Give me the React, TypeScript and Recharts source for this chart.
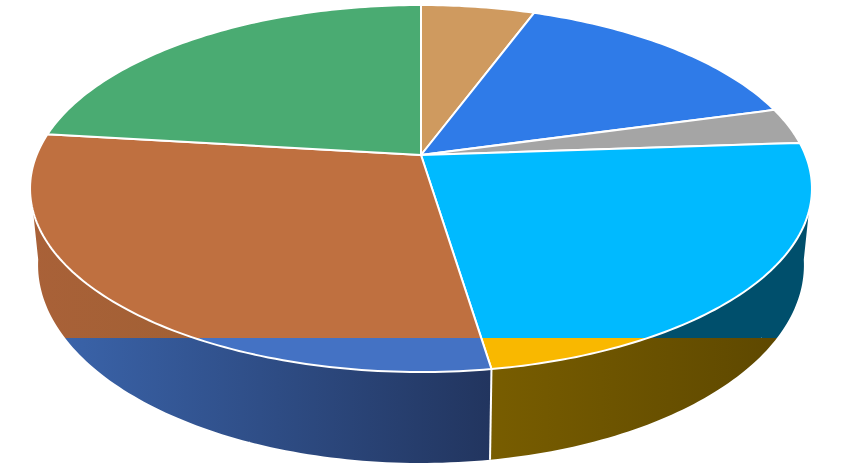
import { Pie, PieChart } from "recharts"

const sliceNames = ["Tan", "Blue", "Gray", "Sky", "Brown", "Green"]
const sliceValues = [5.6, 15.1, 3.2, 23.7, 29.3, 23.1]
const upperColors = ["#CF9A5F", "#2F7BE8", "#A5A5A5", "#00BAFF", "#BF7040", "#4AAB72"]
const lowerColors = ["#CF9A5F", "#2F7BE8", "#A5A5A5", "#F9B800", "#4472C4", "#4AAB72"]
const upperWalls = ["#000", "#000", "#000", "#004F6C", "url(#brownWall)", "#000"]
const lowerWalls = ["#000", "#000", "#000", "url(#goldWall)", "url(#blueWall)", "#000"]

const rows = (colors: string[]) =>
  sliceNames.map((name, i) => ({ name, value: sliceValues[i], fill: colors[i] }))

// perspective of the disc, solved from the outline of the picture
const CX = 421
const TILT = 0.1826
const TOP = { cy: 155, a: 384.4, b: 177.4 }
const BOTTOM = { cy: 228.8, a: 376.5, b: 191.4 }
const SPLIT_Y = 338
const WALL_FROM = 99
const WALL_TO = 261

function project(clock: number, disc: { cy: number; a: number; b: number }) {
  const rad = (clock * Math.PI) / 180
  const u = Math.sin(rad)
  const v = -Math.cos(rad)
  const w = 1 - TILT * v
  return `${(CX + (disc.a * u) / w).toFixed(2)} ${(disc.cy + (disc.b * v) / w).toFixed(2)}`
}

function arc(from: number, to: number, disc: { cy: number; a: number; b: number }) {
  const pts = []
  const n = Math.max(1, Math.ceil(Math.abs(to - from)))
  for (let i = 0; i <= n; i++) pts.push(project(from + ((to - from) * i) / n, disc))
  return pts
}

function clipped(layer: string, node: any) {
  return <g clipPath={`url(#${layer})`}>{node}</g>
}

const topShape = (layer: string) => (props: any) => {
  const from = 90 - props.startAngle
  const to = 90 - props.endAngle
  const d = `M${CX} ${TOP.cy} L${arc(from, to, TOP).join(" L")} Z`
  return clipped(layer, <path d={d} fill={props.fill} stroke="#fff" strokeWidth={2} strokeLinejoin="round" />)
}

const wallShape = (layer: string) => (props: any) => {
  const start = 90 - props.startAngle
  const from = Math.max(start, WALL_FROM)
  const to = Math.min(90 - props.endAngle, WALL_TO)
  if (to <= from) return <g />
  const upper = arc(from, to, TOP)
  const lower = arc(from, to, BOTTOM)
  let d = ""
  for (let i = 0; i + 1 < upper.length; i++) {
    d += `M${upper[i]} L${upper[i + 1]} L${lower[i + 1]} L${lower[i]} Z `
  }
  return clipped(
    layer,
    <g>
      <path d={d} fill={props.fill} />
      {start >= WALL_FROM && <path d={`M${upper[0]} L${lower[0]}`} stroke="#fff" strokeWidth={2} />}
    </g>,
  )
}

const layerProps = {
  dataKey: "value",
  cx: CX,
  cy: TOP.cy,
  outerRadius: 150,
  startAngle: 90,
  endAngle: -270,
  stroke: "none",
  isAnimationActive: false,
}

export default function App() {
  return (
    <div style={{ position: "absolute", left: 0, top: 0, width: 842, height: 472 }}>
      <PieChart width={842} height={472} margin={{ top: 0, right: 0, bottom: 0, left: 0 }}>
        <defs>
          <clipPath id="above">
            <rect x={0} y={0} width={842} height={SPLIT_Y} />
          </clipPath>
          <clipPath id="below">
            <rect x={0} y={SPLIT_Y} width={842} height={472 - SPLIT_Y} />
          </clipPath>
          <linearGradient id="brownWall" gradientUnits="userSpaceOnUse" x1={30} y1={0} x2={220} y2={0}>
            <stop offset="0" stopColor="#A96138" />
            <stop offset="1" stopColor="#A06034" />
          </linearGradient>
          <linearGradient id="blueWall" gradientUnits="userSpaceOnUse" x1={65} y1={0} x2={490} y2={0}>
            <stop offset="0" stopColor="#3A63A9" />
            <stop offset="1" stopColor="#22355F" />
          </linearGradient>
          <linearGradient id="goldWall" gradientUnits="userSpaceOnUse" x1={490} y1={0} x2={780} y2={0}>
            <stop offset="0" stopColor="#785D00" />
            <stop offset="1" stopColor="#5E4800" />
          </linearGradient>
        </defs>
        <Pie {...layerProps} data={rows(upperWalls)} shape={wallShape("above")} />
        <Pie {...layerProps} data={rows(lowerWalls)} shape={wallShape("below")} />
        <Pie {...layerProps} data={rows(upperColors)} shape={topShape("above")} />
        <Pie {...layerProps} data={rows(lowerColors)} shape={topShape("below")} />
      </PieChart>
    </div>
  )
}
